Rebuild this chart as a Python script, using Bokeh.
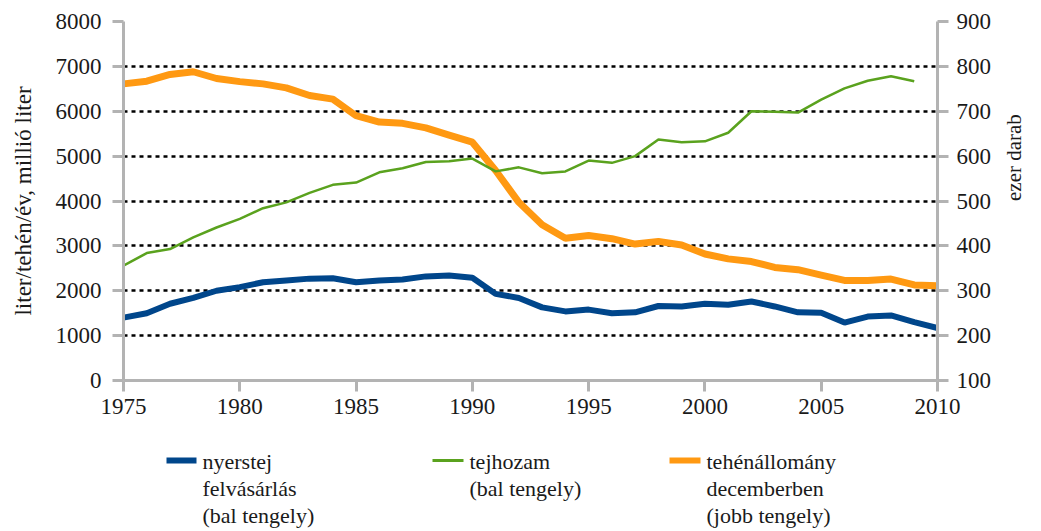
import math
from bokeh.plotting import figure
from bokeh.models import Range1d, LinearAxis, FixedTicker
from bokeh.layouts import column
from bokeh.embed import file_html
from bokeh.resources import INLINE
from bokeh.core.properties import value

years = list(range(1975, 2011))
nyerstej = [1400, 1500, 1710, 1840, 2000, 2080, 2190, 2230, 2270, 2280,
            2190, 2230, 2250, 2320, 2340, 2290, 1930, 1840, 1630, 1540,
            1580, 1500, 1520, 1660, 1650, 1710, 1690, 1760, 1650, 1520,
            1510, 1290, 1425, 1450, 1300, 1170]
tejhozam_years = list(range(1975, 2010))
tejhozam = [2560, 2840, 2930, 3190, 3410, 3600, 3840, 3970, 4180, 4360,
            4410, 4640, 4730, 4870, 4885, 4945, 4660, 4750, 4620, 4660,
            4900, 4850, 5000, 5370, 5310, 5330, 5520, 6000, 5990, 5970,
            6260, 6510, 6680, 6780, 6670]
tehen = [761, 767, 782, 788, 773, 766, 761, 752, 735, 727,
         690, 676, 673, 663, 647, 631, 568, 497, 447, 417,
         423, 416, 404, 410, 402, 382, 371, 365, 352, 347,
         335, 323, 323, 326, 313, 311]

x_ticks = [1975, 1980, 1985, 1990, 1995, 2000, 2005, 2010]
left_ticks = [0, 1000, 2000, 3000, 4000, 5000, 6000, 7000, 8000]
right_ticks = [100, 200, 300, 400, 500, 600, 700, 800, 900]
left_label = "liter/tehén/év, millió liter"
right_label = "ezer darab"
legend_lines = [
    ["nyerstej", "felvásárlás", "(bal tengely)"],
    ["tejhozam", "(bal tengely)"],
    ["tehénállomány", "decemberben", "(jobb tengely)"],
]

BLUE = "#00468B"
GREEN = "#5AA21E"
ORANGE = "#FF9912"
AXIS = "#B3B3B3"
FONT = "Liberation Serif"
TXT = "#1a1a1a"

W = 1041
FL, FR = 123, 937  # frame edges in page pixels

p = figure(width=W, height=430, output_backend="svg", toolbar_location=None,
           x_range=Range1d(1975, 2010), y_range=Range1d(0, 8000),
           min_border_left=FL, min_border_right=W - FR, min_border_top=21,
           min_border_bottom=50)
p.extra_y_ranges = {"right": Range1d(100, 900)}
p.outline_line_color = None
p.xgrid.visible = False
p.ygrid.ticker = FixedTicker(ticks=left_ticks[1:])
p.ygrid.grid_line_color = "black"
p.ygrid.grid_line_dash = "4 4"
p.ygrid.grid_line_width = 2.5

p.line(years, tehen, y_range_name="right", color=ORANGE, line_width=7)
p.line(tejhozam_years, tejhozam, color=GREEN, line_width=2.5)
p.line(years, nyerstej, color=BLUE, line_width=6)

raxis = LinearAxis(y_range_name="right", ticker=FixedTicker(ticks=right_ticks),
                   axis_label=right_label)
p.add_layout(raxis, "right")

p.xaxis.ticker = FixedTicker(ticks=x_ticks)
p.yaxis[0].ticker = FixedTicker(ticks=left_ticks)
p.yaxis[0].axis_label = left_label

for ax in p.xaxis + p.yaxis:
    ax.axis_line_color = AXIS
    ax.axis_line_width = 3
    ax.major_tick_line_color = AXIS
    ax.major_tick_line_width = 3
    ax.major_tick_in = 0
    ax.major_tick_out = 11
    ax.minor_tick_line_color = None
    ax.major_label_text_font = FONT
    ax.major_label_text_font_size = "23px"
    ax.major_label_text_color = TXT
    ax.axis_label_text_font = FONT
    ax.axis_label_text_font_style = "normal"
    ax.axis_label_text_color = TXT

p.yaxis[0].axis_label_text_font_size = "23px"
raxis.axis_label_text_font_size = "21px"
p.xaxis.major_label_standoff = 7
p.yaxis[0].major_label_standoff = 11
p.yaxis[0].axis_label_standoff = 17
raxis.major_label_standoff = 8
raxis.axis_label_standoff = 20
if "axis_label_orientation" in raxis.properties():
    raxis.axis_label_orientation = math.pi / 2

# legend strip below the chart (its frame aligns with the chart frame,
# so x range is expressed in page pixels over the frame span)
LH = 98
lg = figure(width=W, height=LH, output_backend="svg", toolbar_location=None,
            x_range=Range1d(FL, FR), y_range=Range1d(LH, 0),
            x_axis_location=None, y_axis_location=None,
            min_border=0, min_border_left=FL, min_border_right=W - FR,
            min_border_top=0, min_border_bottom=0)
lg.outline_line_color = None
lg.xgrid.visible = False
lg.ygrid.visible = False

sw_x = [166, 432, 669]
sw_w = [30, 31, 31]
colors = [BLUE, GREEN, ORANGE]
widths = [6, 3, 6]
for i in range(3):
    lg.line([sw_x[i], sw_x[i] + sw_w[i]], [30, 30], color=colors[i], line_width=widths[i])
    tx = sw_x[i] + sw_w[i] + 6
    for j, t in enumerate(legend_lines[i]):
        lg.text([tx], [31 + 27 * j], text=[t], text_font=value(FONT),
                text_font_size="22px", text_baseline="middle", text_align="left",
                text_color=TXT)

layout = column(p, lg, spacing=0)
open("out.html", "w").write(file_html(layout, INLINE))
